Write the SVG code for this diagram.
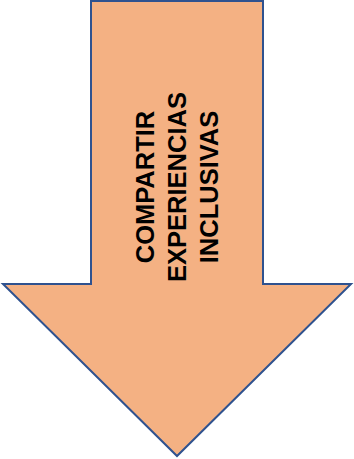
<svg xmlns="http://www.w3.org/2000/svg" width="354" height="459" viewBox="0 0 354 459">
<style>
.arrow{fill:#F4B183;stroke:#2F528F;stroke-width:2;stroke-linejoin:miter}
.lbl{font-family:"Liberation Sans",Arial,sans-serif;font-weight:bold;font-size:25.5px;fill:#000;text-anchor:middle}
</style>
<g id="arrow">
<polygon class="arrow" points="91,1 263,1 263,284 351,284 177,456 3,284 91,284"/>
<g transform="translate(0,187) rotate(-90)">
<text class="lbl" x="0" y="154">COMPARTIR</text>
<text class="lbl" x="0" y="186">EXPERIENCIAS</text>
<text class="lbl" x="0" y="218">INCLUSIVAS</text>
</g>
</g>
</svg>
